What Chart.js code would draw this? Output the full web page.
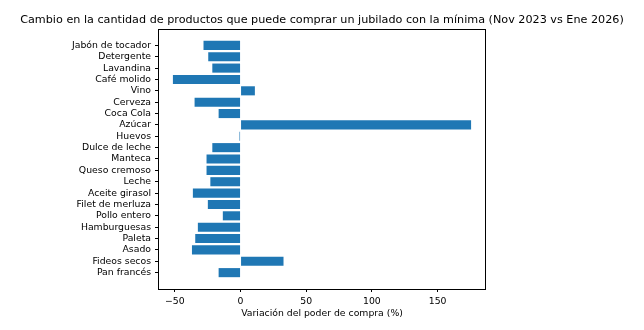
<!DOCTYPE html>
<html>
<head>
<meta charset="utf-8">
<script src="https://cdn.jsdelivr.net/npm/chart.js@4/dist/chart.umd.min.js"></script>
<style>
  html, body { margin: 0; padding: 0; background: #fff; }
  #wrap { width: 644px; height: 330px; }
</style>
</head>
<body>
<div id="wrap"><canvas id="chart"></canvas></div>
<script>
const productos = [
    "Jabón de tocador", "Detergente", "Lavandina", "Café molido", "Vino",
    "Cerveza", "Coca Cola", "Azúcar", "Huevos", "Dulce de leche",
    "Manteca", "Queso cremoso", "Leche", "Aceite girasol", "Filet de merluza",
    "Pollo entero", "Hamburguesas", "Paleta", "Asado", "Fideos secos", "Pan francés"
];
const variacion = [
    -28.2, -24.6, -21.5, -51.5, 10.9,
    -35.0, -16.7, 175.5, -0.8, -21.5,
    -25.9, -25.9, -23.0, -36.3, -24.9,
    -13.5, -32.5, -34.5, -37.0, 32.7, -16.7
];
const xTicks = [-50, 0, 50, 100, 150];
const titulo = "Cambio en la cantidad de productos que puede comprar un jubilado con la mínima (Nov 2023 vs Ene 2026)";

Chart.defaults.font.family = "'DejaVu Sans', sans-serif";
Chart.defaults.color = "#000";

// caja completa alrededor del area de dibujo y titulo centrado sobre los ejes
const frame = {
    id: "frame",
    afterDraw(chart) {
        const { ctx, chartArea: a } = chart;
        ctx.save();
        ctx.strokeStyle = "#000";
        ctx.lineWidth = 1;
        ctx.strokeRect(Math.round(a.left) + 0.5, Math.round(a.top) + 0.5,
            Math.round(a.right - a.left) - 1, Math.round(a.bottom - a.top));
        ctx.fillStyle = "#000";
        ctx.font = "11.2px 'DejaVu Sans', sans-serif";
        ctx.textAlign = "center";
        ctx.textBaseline = "middle";
        ctx.fillText(titulo, (a.left + a.right) / 2, 20);
        ctx.restore();
    }
};

new Chart(document.getElementById("chart"), {
    type: "bar",
    data: {
        datasets: [{
            data: variacion.map((v, i) => ({ x: v, y: i })),
            backgroundColor: "#1f77b4",
            borderWidth: 0,
            barPercentage: 0.8,
            categoryPercentage: 1.0
        }]
    },
    plugins: [frame],
    options: {
        indexAxis: "y",
        responsive: true,
        maintainAspectRatio: false,
        animation: false,
        layout: { padding: { left: 0, right: 158, top: 29, bottom: 0 } },
        plugins: {
            legend: { display: false },
            tooltip: { enabled: false },
            title: { display: false }
        },
        scales: {
            x: {
                type: "linear",
                min: -62.85,
                max: 186.85,
                offset: false,
                afterBuildTicks: s => { s.ticks = xTicks.map(v => ({ value: v })); },
                afterFit: s => { s.height = 41; },
                ticks: {
                    font: { size: 9.3 },
                    padding: 4,
                    maxRotation: 0,
                    callback: v => v < 0 ? "\u2212" + Math.abs(v) : String(v)
                },
                grid: { display: true, offset: false, drawOnChartArea: false, drawTicks: true, tickLength: 3, color: "#000" },
                border: { display: false },
                title: {
                    display: true,
                    text: "Variación del poder de compra (%)",
                    font: { size: 9.3 },
                    padding: { top: 0, bottom: 11 }
                }
            },
            y: {
                type: "linear",
                reverse: true,
                min: -1.44,
                max: 21.44,
                offset: false,
                afterBuildTicks: s => { s.ticks = productos.map((_, i) => ({ value: i })); },
                afterFit: s => { s.width = 158; },
                ticks: {
                    font: { size: 9.3 },
                    padding: 4,
                    autoSkip: false,
                    callback: v => productos[v]
                },
                grid: { display: true, offset: false, drawOnChartArea: false, drawTicks: true, tickLength: 3, color: "#000" },
                border: { display: false }
            }
        }
    }
});
</script>
</body>
</html>
